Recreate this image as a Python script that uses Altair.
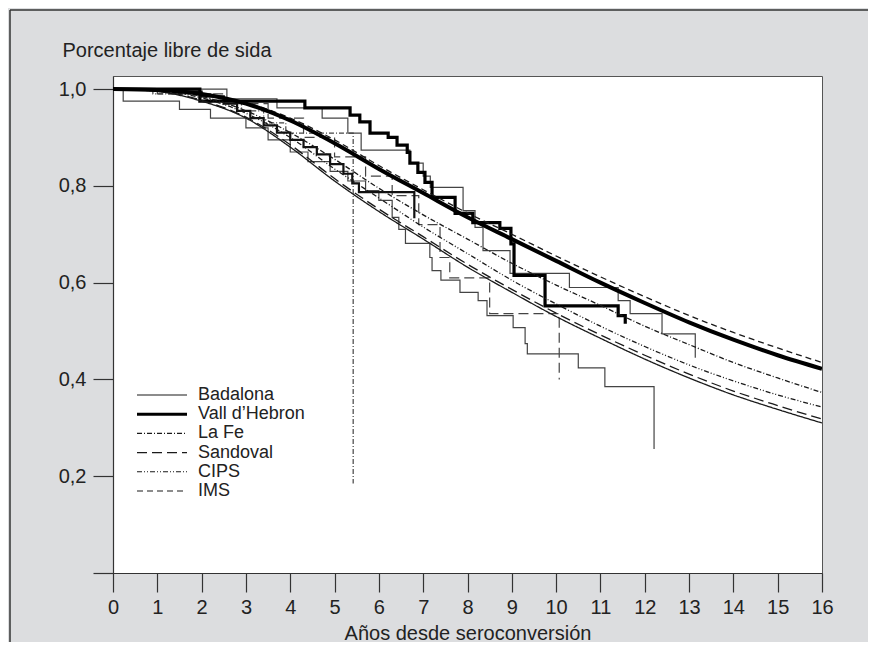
import altair as alt
import pandas as pd

# ---------------- data ----------------
cohortes = ["Badalona", "Vall d’Hebron", "La Fe", "Sandoval", "CIPS", "IMS"]

# fitted (smooth) survival curves, one value per year 0..16
anios = list(range(17))
badalona_aj = [1.0, 0.995, 0.975, 0.94, 0.88, 0.81, 0.747, 0.69, 0.632, 0.58, 0.53, 0.485, 0.442, 0.403, 0.368, 0.338, 0.31]
vh_aj = [1.0, 0.998, 0.99, 0.97, 0.935, 0.888, 0.835, 0.785, 0.735, 0.69, 0.645, 0.6, 0.558, 0.518, 0.482, 0.45, 0.422]
lafe_aj = [1.0, 0.997, 0.985, 0.955, 0.91, 0.855, 0.795, 0.74, 0.69, 0.64, 0.595, 0.553, 0.51, 0.472, 0.435, 0.403, 0.373]
sandoval_aj = [1.0, 0.996, 0.977, 0.942, 0.885, 0.815, 0.752, 0.695, 0.638, 0.586, 0.537, 0.492, 0.45, 0.411, 0.376, 0.346, 0.318]
cips_aj = [1.0, 0.996, 0.982, 0.95, 0.9, 0.835, 0.775, 0.715, 0.66, 0.605, 0.556, 0.51, 0.468, 0.43, 0.397, 0.368, 0.343]
ims_aj = [1.0, 0.999, 0.99, 0.972, 0.94, 0.895, 0.842, 0.792, 0.744, 0.7, 0.655, 0.612, 0.571, 0.532, 0.497, 0.465, 0.435]

# Kaplan-Meier step curves (time of step, value after step)
badalona_km_t = [0, 2.57, 3.7, 4.72, 5.3, 5.6, 6.7, 7.0, 7.16, 7.9, 8.17, 8.35, 8.96, 10.3, 11.4, 11.67, 12.39, 13.14]
badalona_km_v = [1.0, 0.98, 0.961, 0.94, 0.909, 0.874, 0.847, 0.82, 0.797, 0.749, 0.714, 0.666, 0.619, 0.59, 0.563, 0.536, 0.494, 0.445]
vh_km_t = [0, 1.96, 4.33, 5.35, 5.57, 5.8, 6.21, 6.41, 6.64, 6.7, 6.88, 7.04, 7.2, 7.72, 8.12, 8.73, 8.98, 9.05, 9.75, 11.4, 11.56]
vh_km_v = [1.0, 0.975, 0.961, 0.946, 0.932, 0.909, 0.9, 0.884, 0.869, 0.847, 0.828, 0.807, 0.776, 0.743, 0.724, 0.712, 0.68, 0.615, 0.552, 0.532, 0.515]
lafe_km_t = [0, 0.9, 2.2, 2.9, 3.4, 3.9, 5.42]
lafe_km_v = [1.0, 0.99, 0.975, 0.955, 0.93, 0.909, 0.185]
sandoval_km_t = [0, 1.0, 2.5, 3.5, 4.3, 5.0, 5.7, 6.3, 6.9, 7.38, 7.6, 8.5, 10.07]
sandoval_km_v = [1.0, 0.99, 0.97, 0.94, 0.9, 0.86, 0.82, 0.78, 0.72, 0.652, 0.61, 0.536, 0.4]
cips_km_t = [0, 1.5, 2.0, 2.5, 2.8, 3.1, 3.4, 3.7, 4.0, 4.3, 4.6, 4.9, 5.2, 5.4, 5.55, 6.8]
cips_km_v = [1.0, 0.995, 0.985, 0.97, 0.955, 0.94, 0.925, 0.91, 0.895, 0.88, 0.865, 0.845, 0.825, 0.805, 0.787, 0.733]
ims_km_t = [0, 0.23, 1.5, 2.2, 3.0, 3.5, 4.0, 4.4, 4.9, 5.3, 5.7, 6.0, 6.3, 6.45, 6.6, 7.15, 7.2, 7.4, 7.83, 8.24, 8.44, 9.03, 9.3, 9.35, 10.5, 11.1, 12.21]
ims_km_v = [1.0, 0.975, 0.958, 0.94, 0.92, 0.895, 0.87, 0.85, 0.83, 0.81, 0.79, 0.77, 0.735, 0.71, 0.681, 0.652, 0.625, 0.605, 0.58, 0.563, 0.532, 0.507, 0.474, 0.453, 0.424, 0.385, 0.256]

x_ticks = list(range(17))
y_ticks = [0.0, 0.2, 0.4, 0.6, 0.8, 1.0]

# ---------------- tables ----------------
aj_series = [badalona_aj, vh_aj, lafe_aj, sandoval_aj, cips_aj, ims_aj]
km_series = [(badalona_km_t, badalona_km_v), (vh_km_t, vh_km_v), (lafe_km_t, lafe_km_v),
             (sandoval_km_t, sandoval_km_v), (cips_km_t, cips_km_v), (ims_km_t, ims_km_v)]

rows = []
for c, vals in zip(cohortes, aj_series):
    for t, v in zip(anios, vals):
        rows.append({"cohorte": c, "t": t, "v": v})
df_aj = pd.DataFrame(rows)

rows = []
for c, (ts, vs) in zip(cohortes, km_series):
    for t, v in zip(ts, vs):
        rows.append({"cohorte": c, "t": t, "v": v})
df_km = pd.DataFrame(rows)

df_leg = pd.DataFrame({"cohorte": cohortes})

# ---------------- styles ----------------
FONT = "Liberation Sans"
INK = "#1a1a1a"
THIN = "#444444"
dashes = [[1, 0], [1, 0], [5, 2, 1, 2], [10, 5], [5, 2, 1, 2, 1, 2], [6, 4]]
dash_scale = alt.Scale(domain=cohortes, range=dashes)
VH = "Vall d’Hebron"

X = alt.X("t:Q",
          scale=alt.Scale(domain=[0, 16], nice=False),
          axis=alt.Axis(values=x_ticks, title="Años desde seroconversión",
                        tickSize=19, labelPadding=5, labelFontSize=20,
                        titleFontSize=20, titleFontWeight="normal",
                        titleY=60, titleBaseline="middle", labelFlush=False))
Y = alt.Y("v:Q",
          scale=alt.Scale(domain=[0, 1.027], nice=False, zero=False),
          axis=alt.Axis(values=y_ticks, title="Porcentaje libre de sida",
                        labelExpr="datum.value == 0 ? '' : replace(format(datum.value, '.1f'), '.', ',')",
                        tickSize=20, labelPadding=7, labelFontSize=20,
                        titleFontSize=20, titleFontWeight="normal", titleAngle=0,
                        titleAlign="left", titleBaseline="middle", titleX=-51, titleY=-26))

aj_thin = alt.Chart(df_aj).transform_filter(alt.datum.cohorte != VH).mark_line(
    interpolate="monotone", color=INK, strokeWidth=1.3, clip=True
).encode(x=X, y=Y, detail="cohorte:N",
         strokeDash=alt.StrokeDash("cohorte:N", scale=dash_scale, legend=None))

aj_thick = alt.Chart(df_aj).transform_filter(alt.datum.cohorte == VH).mark_line(
    interpolate="monotone", color="#000000", strokeWidth=4, clip=True
).encode(x=X, y=Y, detail="cohorte:N")

km_dashed = alt.Chart(df_km).transform_filter(
    alt.FieldOneOfPredicate(field="cohorte", oneOf=["La Fe", "Sandoval"])
).mark_line(interpolate="step-after", color=THIN, strokeWidth=1.2, clip=True).encode(
    x=X, y=Y, detail="cohorte:N",
    strokeDash=alt.StrokeDash("cohorte:N", scale=dash_scale, legend=None))

km_solid = alt.Chart(df_km).transform_filter(
    alt.FieldOneOfPredicate(field="cohorte", oneOf=["Badalona", "IMS"])
).mark_line(interpolate="step-after", color=THIN, strokeWidth=1.2, clip=True).encode(
    x=X, y=Y, detail="cohorte:N")

km_cips = alt.Chart(df_km).transform_filter(alt.datum.cohorte == "CIPS").mark_line(
    interpolate="step-after", color="#111111", strokeWidth=2.2, clip=True
).encode(x=X, y=Y, detail="cohorte:N")

km_vh = alt.Chart(df_km).transform_filter(alt.datum.cohorte == VH).mark_line(
    interpolate="step-after", color="#000000", strokeWidth=3.2, clip=True
).encode(x=X, y=Y, detail="cohorte:N")

main = alt.layer(km_solid, km_dashed, km_cips, km_vh, aj_thin, aj_thick)

# ---------------- legend inside the plot ----------------
LY = alt.Y("cohorte:N", scale=alt.Scale(type="point", domain=cohortes, range=[319, 415], padding=0), axis=None)

leg_lines = alt.Chart(df_leg).transform_filter(alt.datum.cohorte != VH).mark_rule(
    color=INK, strokeWidth=1.1
).encode(x=alt.value(24), x2=alt.value(74), y=LY,
         strokeDash=alt.StrokeDash("cohorte:N", scale=dash_scale, legend=None))
leg_thick = alt.Chart(df_leg).transform_filter(alt.datum.cohorte == VH).mark_rule(
    color="#000000", strokeWidth=3
).encode(x=alt.value(24), x2=alt.value(74), y=LY)
leg_text = alt.Chart(df_leg).mark_text(
    align="left", baseline="middle", font=FONT, fontSize=18, color="#222222"
).encode(x=alt.value(85), y=LY, text="cohorte:N")

frame_df = pd.DataFrame({"k": [0]})
frame_left = alt.Chart(frame_df).mark_rule(color="#333333", strokeWidth=1.5).encode(
    x=alt.value(-103), y=alt.value(-66), y2=alt.value(640))
frame_top = alt.Chart(frame_df).mark_rule(color="#333333", strokeWidth=1.5).encode(
    x=alt.value(-103), x2=alt.value(800), y=alt.value(-66))

legend = alt.layer(leg_lines, leg_thick, leg_text, frame_left, frame_top)

chart = alt.layer(main, legend).resolve_scale(y="independent").properties(
    width=709, height=497,
    padding={"left": 105, "top": 68, "right": 46, "bottom": 69},
    autosize=alt.AutoSizeParams(type="none"),
    background="#dcdddf",
).configure_axis(
    labelFont=FONT, titleFont=FONT, labelColor="#222222", titleColor="#222222",
    domainColor="#333333", tickColor="#333333", grid=False, domainWidth=1.2, tickWidth=1.2
).configure_view(fill="white", stroke="#555555", strokeWidth=1)

chart.save("out.html", embed_options={"renderer": "svg", "actions": False})
